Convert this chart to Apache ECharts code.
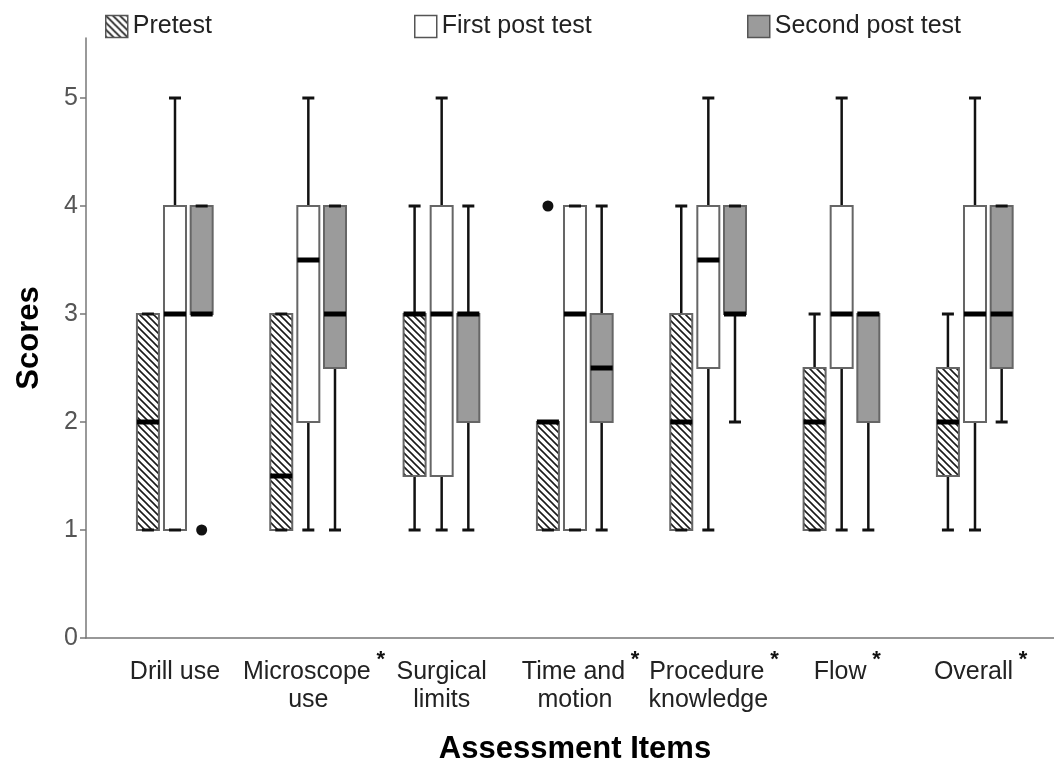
<!DOCTYPE html>
<html>
<head>
<meta charset="utf-8">
<script src="https://cdn.jsdelivr.net/npm/echarts@6/dist/echarts.min.js"></script>
<style>
  html, body { margin: 0; padding: 0; background: #fff; }
  #main { width: 1054px; height: 765px; }
</style>
</head>
<body>
<div id="main"></div>
<script>
// categories and label text
var categories = ['Drill use', 'Microscope use', 'Surgical limits', 'Time and motion',
                  'Procedure knowledge', 'Flow', 'Overall'];
var labelLines = [['Drill use'], ['Microscope', 'use'], ['Surgical', 'limits'], ['Time and', 'motion'],
                  ['Procedure', 'knowledge'], ['Flow'], ['Overall']];
var significant = [false, true, false, true, true, true, true];

// [min, q1, median, q3, max] per category
var pretest = [
  [1, 1, 2, 3, 3],
  [1, 1, 1.5, 3, 3],
  [1, 1.5, 3, 3, 4],
  [1, 1, 2, 2, 2],
  [1, 1, 2, 3, 4],
  [1, 1, 2, 2.5, 3],
  [1, 1.5, 2, 2.5, 3]
];
var firstPost = [
  [1, 1, 3, 4, 5],
  [1, 2, 3.5, 4, 5],
  [1, 1.5, 3, 4, 5],
  [1, 1, 3, 4, 4],
  [1, 2.5, 3.5, 4, 5],
  [1, 2.5, 3, 4, 5],
  [1, 2, 3, 4, 5]
];
var secondPost = [
  [3, 3, 3, 4, 4],
  [1, 2.5, 3, 4, 4],
  [1, 2, 3, 3, 4],
  [1, 2, 2.5, 3, 4],
  [2, 3, 3, 4, 4],
  [1, 2, 3, 3, 3],
  [2, 2.5, 3, 4, 4]
];
// outliers: [category index, value, group index]
var outliers = [
  [0, 1, 2],
  [3, 4, 0]
];
var yTicks = [0, 1, 2, 3, 4, 5];

var FONT = "'Liberation Sans', Arial, sans-serif";
var groupOffset = [-0.203, 0, 0.2];
var boxFrac = 0.165;

function makeHatch() {
  var s = 7;
  var c = document.createElement('canvas');
  c.width = s; c.height = s;
  var g = c.getContext('2d');
  g.fillStyle = '#fff';
  g.fillRect(0, 0, s, s);
  g.strokeStyle = '#1a1a1a';
  g.lineWidth = 1.6;
  g.beginPath();
  g.moveTo(-1, -1); g.lineTo(s + 1, s + 1);
  g.moveTo(s - 2, -2); g.lineTo(s + 2, 2);
  g.moveTo(-2, s - 2); g.lineTo(2, s + 2);
  g.stroke();
  return c;
}
var hatch = { image: makeHatch(), repeat: 'repeat' };
var fills = [hatch, '#ffffff', '#9b9b9b'];

function toItems(arr) {
  return arr.map(function (d, i) { return [i].concat(d); });
}

function boxRender(gi) {
  return function (params, api) {
    var cat = api.value(0);
    var band = api.size([1, 0])[0];
    var cx = api.coord([cat, 0])[0] + groupOffset[gi] * band;
    var w = boxFrac * band;
    var cap = 12;
    var y = function (v) { return api.coord([cat, api.value(v)])[1]; };
    var yMin = y(1), yQ1 = y(2), yMed = y(3), yQ3 = y(4), yMax = y(5);
    var wl = { stroke: '#111', lineWidth: 2.5 };
    var cl = { stroke: '#111', lineWidth: 3 };
    return {
      type: 'group',
      children: [
        { type: 'line', shape: { x1: cx, y1: yQ3, x2: cx, y2: yMax }, style: wl },
        { type: 'line', shape: { x1: cx, y1: yQ1, x2: cx, y2: yMin }, style: wl },
        { type: 'rect', shape: { x: cx - w / 2, y: yQ3, width: w, height: yQ1 - yQ3 },
          style: { fill: fills[gi], stroke: '#666', lineWidth: 2 } },
        { type: 'line', shape: { x1: cx - cap / 2, y1: yMax, x2: cx + cap / 2, y2: yMax }, style: cl },
        { type: 'line', shape: { x1: cx - cap / 2, y1: yMin, x2: cx + cap / 2, y2: yMin }, style: cl },
        { type: 'rect', shape: { x: cx - w / 2, y: yMed - 2.5, width: w, height: 5 },
          style: { fill: '#000' } }
      ]
    };
  };
}

function outlierRender(params, api) {
  var cat = api.value(0);
  var band = api.size([1, 0])[0];
  var p = api.coord([cat, api.value(1)]);
  var cx = p[0] + groupOffset[api.value(2)] * band;
  return { type: 'circle', shape: { cx: cx, cy: p[1], r: 5.5 }, style: { fill: '#111' } };
}

var seriesNames = ['Pretest', 'First post test', 'Second post test'];
var groups = [pretest, firstPost, secondPost];
var series = groups.map(function (g, gi) {
  return {
    type: 'custom',
    name: seriesNames[gi],
    xAxisIndex: 0, yAxisIndex: 0,
    renderItem: boxRender(gi),
    itemStyle: { color: fills[gi] },
    encode: { x: 0, y: [1, 2, 3, 4, 5] },
    data: toItems(g),
    silent: true
  };
});
series.push({
  type: 'custom',
  name: 'outliers',
  xAxisIndex: 0, yAxisIndex: 0,
  renderItem: outlierRender,
  encode: { x: 0, y: 1 },
  data: outliers,
  silent: true
});

var legendLeft = [105, 414, 747];
var legends = seriesNames.map(function (n, i) {
  return {
    data: [{ name: n, icon: 'rect' }],
    left: legendLeft[i], top: 14, padding: 0,
    itemWidth: 22, itemHeight: 22,
    itemStyle: { color: fills[i], borderColor: '#555', borderWidth: 1.5 },
    textStyle: { fontSize: 25, color: '#222', fontFamily: FONT },
    selectedMode: false
  };
});

var yMax = 600 / 108;

var option = {
  animation: false,
  backgroundColor: '#fff',
  legend: legends,
  grid: [
    { left: 108.33, width: 933.33, top: 38, height: 600, outerBoundsMode: 'none', containLabel: false },
    { left: 86, right: 0, top: 38, height: 600, outerBoundsMode: 'none', containLabel: false }
  ],
  xAxis: [
    {
      type: 'category', gridIndex: 0, data: categories,
      axisLine: { show: false },
      axisTick: { alignWithLabel: true, length: 14, lineStyle: { color: '#444', width: 1.5 } },
      axisLabel: {
        interval: 0, margin: 20, fontSize: 25, lineHeight: 28, color: '#222', fontFamily: FONT,
        formatter: function (v, i) {
          var lines = labelLines[i];
          if (!significant[i]) return lines.join('\n');
          var first = '{p|}' + lines[0] + '{s|*}';
          return [first].concat(lines.slice(1)).join('\n');
        },
        rich: {
          p: { width: 14, fontSize: 25, lineHeight: 28, fontFamily: FONT },
          s: { width: 14, fontSize: 22, fontWeight: 'bold', color: '#111', fontFamily: FONT,
               verticalAlign: 'top', padding: [-9, 0, 0, 3] }
        }
      },
      name: 'Assessment Items', nameLocation: 'middle', nameGap: 96,
      nameTextStyle: { fontSize: 31, fontWeight: 'bold', color: '#000', fontFamily: FONT }
    },
    {
      type: 'value', gridIndex: 1, min: 0, max: 1,
      axisLine: { show: true, lineStyle: { color: '#777', width: 1.5 } },
      axisTick: { show: false }, axisLabel: { show: false }, splitLine: { show: false }
    }
  ],
  yAxis: [
    { type: 'value', gridIndex: 0, min: 0, max: yMax, show: false, splitLine: { show: false } },
    {
      type: 'value', gridIndex: 1, min: 0, max: yMax, interval: 1,
      axisLine: { show: true, lineStyle: { color: '#777', width: 1.5 } },
      axisTick: { show: true, length: 6, customValues: yTicks, lineStyle: { color: '#777', width: 1.5 } },
      axisLabel: { customValues: yTicks, margin: 8, fontSize: 25, color: '#555', fontFamily: FONT },
      splitLine: { show: false },
      name: 'Scores', nameLocation: 'middle', nameRotate: 90, nameGap: 41,
      nameTextStyle: { fontSize: 31, fontWeight: 'bold', color: '#000', fontFamily: FONT }
    }
  ],
  series: series
};

var chart = echarts.init(document.getElementById('main'), null, { renderer: 'canvas' });
chart.setOption(option);
</script>
</body>
</html>
